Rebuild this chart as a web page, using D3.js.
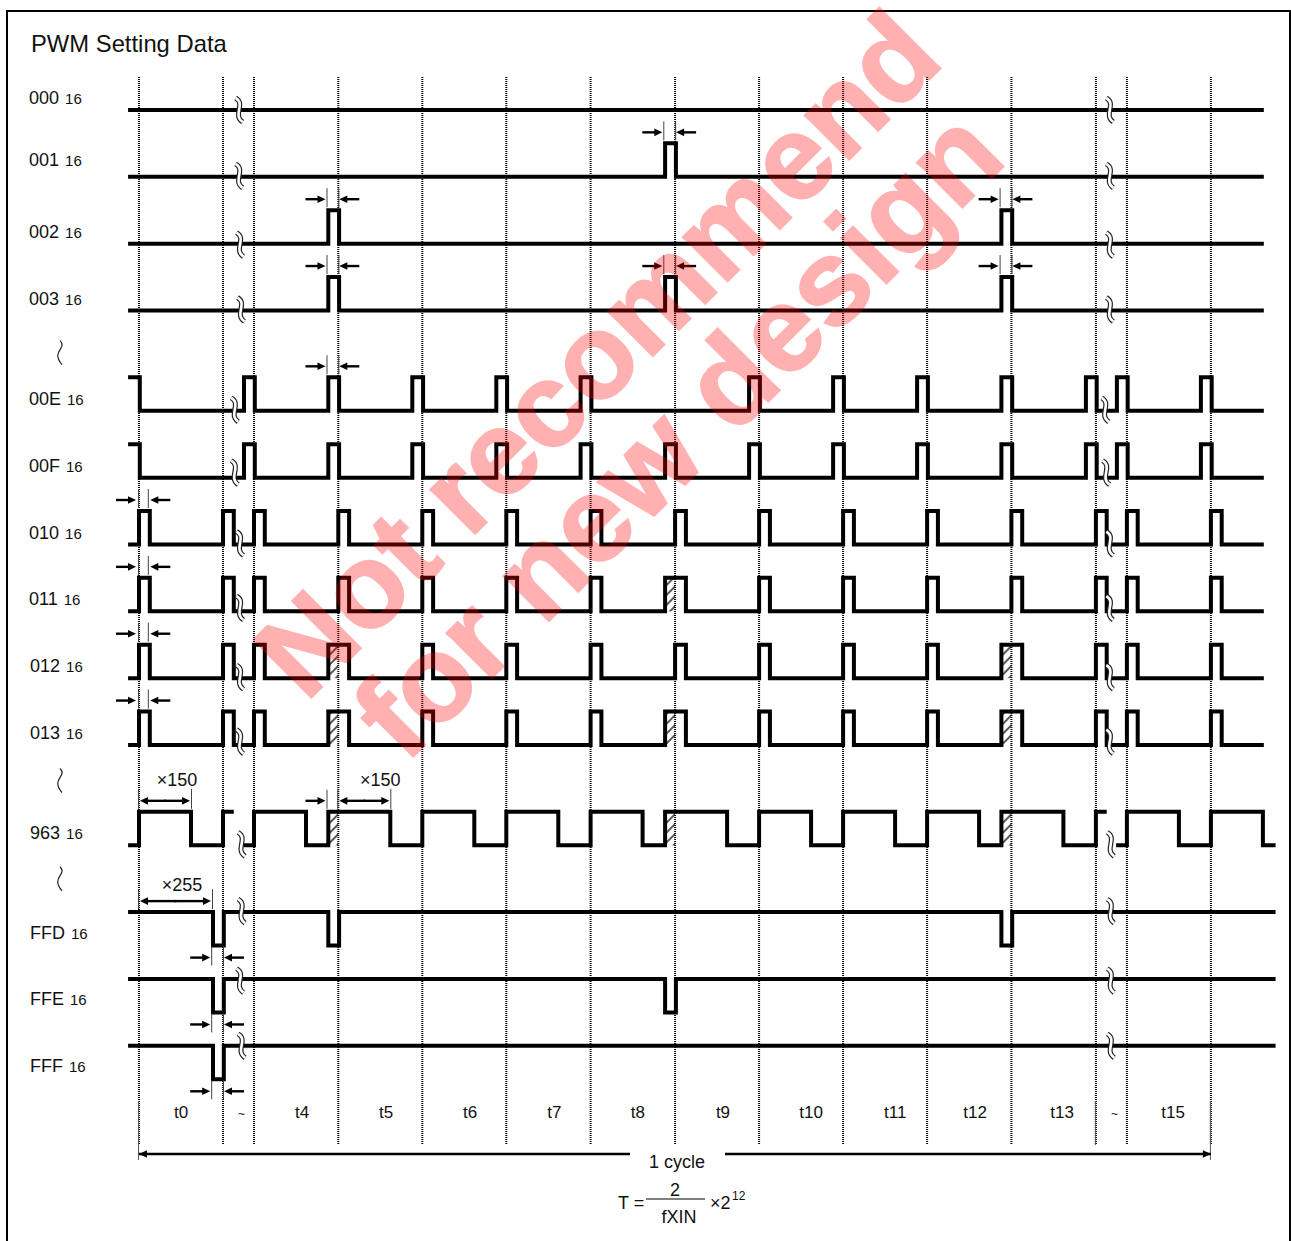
<!DOCTYPE html>
<html>
<head>
<meta charset="utf-8">
<title>PWM Setting Data</title>
<script src="https://cdn.jsdelivr.net/npm/d3@7"></script>
<style>
    html, body { margin: 0; padding: 0; background: #fff; overflow: hidden; }
    svg { display: block; }
    text { font-family: "Liberation Sans", Arial, sans-serif; fill: #111; }
</style>
</head>
<body>
<script>
// setting values, top to bottom
var rowNames = ['000','001','002','003','00E','00F','010','011','012','013','963','FFD','FFE','FFF'];
var rowLanes = [0, 1, 2, 3, 4.5, 5.5, 6.5, 7.5, 8.5, 9.5, 11, 12.5, 13.5, 14.5];

// pulses as [slot edge, counts before it, counts after it]
var all = d3.range(15);
var pulses000 = [];
var pulses001 = [[7, 1, 0]];
var pulses002 = [[3, 1, 0], [11, 1, 0]];
var pulses003 = [[3, 1, 0], [7, 1, 0], [11, 1, 0]];
var pulses00E = [0, 2, 3, 4, 5, 6, 8, 9, 10, 11, 12, 13, 14].map(function(g) { return [g, 1, 0]; });
var pulses00F = [0, 2, 3, 4, 5, 6, 7, 8, 9, 10, 11, 12, 13, 14].map(function(g) { return [g, 1, 0]; });
var pulses010 = all.map(function(g) { return [g, 0, 1]; });
var pulses011 = all.map(function(g) { return [g, g === 7 ? 1 : 0, 1]; });
var pulses012 = all.map(function(g) { return [g, g === 3 || g === 11 ? 1 : 0, 1]; });
var pulses013 = all.map(function(g) { return [g, g === 3 || g === 7 || g === 11 ? 1 : 0, 1]; });
var pulses963 = all.map(function(g) {
    return [g, g === 3 || g === 7 || g === 11 ? 1 : 0, g === 1 || g === 12 ? 1 : 150];
});
var dipsFFD = [[1, 1, 0], [3, 1, 0], [11, 1, 0]];
var dipsFFE = [[1, 1, 0], [7, 1, 0]];
var dipsFFF = [[1, 1, 0]];

var rowPulses = [pulses000, pulses001, pulses002, pulses003, pulses00E, pulses00F, pulses010,
                 pulses011, pulses012, pulses013, pulses963, dipsFFD, dipsFFE, dipsFFF];
var rowRest = [0, 0, 0, 0, 0, 0, 0, 0, 0, 0, 0, 1, 1, 1];
var rowEnd = [14.63, 14.63, 14.63, 14.63, 14.63, 14.63, 14.63, 14.63, 14.63, 14.63, 14.77, 14.77, 14.77, 14.77];

// where the time axis is broken on each row (slot units) and the level it crosses
var breaksLeft = [1.52, 1.52, 1.55, 1.58, 1.38, 1.38, 1.55, 1.55, 1.55, 1.55, 1.6, 1.6, 1.55, 1.6];
var breaksRight = [12.45, 12.45, 12.45, 12.45, 12.3, 12.33, 12.45, 12.45, 12.45, 12.45, 12.48, 12.48, 12.48, 12.48];
var breakLevels = [0, 0.03, -0.03, 0.03, 0.03, 0.15, 0.03, 0.1, 0.03, 0.1, 0.03, 1.03, 0.95, 1];

// width markers: [row, slot edge, side]
var widthMarks = [[1, 7, -1], [2, 3, -1], [2, 11, -1], [3, 3, -1], [3, 7, -1], [3, 11, -1], [4, 3, -1],
                  [6, 0, 1], [7, 0, 1], [8, 0, 1], [9, 0, 1], [11, 1, -1], [12, 1, -1], [13, 1, -1]];
// count dimensions: [row, slot edge, counts, label]
var countMarks = [[10, 0, 150, '×150'], [10, 3, 150, '×150'], [11, 0, 255, '×255']];

var slotLabels = ['t0', '~', 't4', 't5', 't6', 't7', 't8', 't9', 't10', 't11', 't12', 't13', '~', 't15'];
var slotLabelAt = [0.5, 1.6, 2.57, 3.57, 4.57, 5.57, 6.56, 7.57, 8.62, 9.62, 10.57, 11.6, 12.6, 13.55];

var width = 1291, height = 1241;

var svg = d3.select('body').append('svg').attr('width', width).attr('height', height);

// the break slots are drawn narrow, so the axis is piecewise
var slotPx = [84, 31, 84.3, 84, 84, 84.3, 84.5, 84, 84, 84, 84.3, 84.5, 31, 84];
var x = d3.scaleLinear()
    .domain(all)
    .range(slotPx.reduce(function(acc, w) { acc.push(acc[acc.length-1]+w); return acc; }, [139]));
// the diagram is not to scale in counts either
var countPx = d3.scaleLinear().domain([0, 1, 150, 255]).range([0, 10.8, 52, 73]);
var lane = d3.scaleLinear().domain([0, 14.5]).range([110, 1079.3]);
var level = d3.scaleLinear().domain([0, 1]).range([0, -33.5]);
var edgeNudge = 0.8;

function rowY(r, v) { return lane(rowLanes[r])+level(v); }

svg.append('rect')
    .attr('x', 7).attr('y', 11)
    .attr('width', 1283).attr('height', 1260)
    .attr('fill', 'none').attr('stroke', '#000').attr('stroke-width', 2);

svg.append('text').attr('x', 31).attr('y', 52).style('font-size', '23.8px').text('PWM Setting Data');

// hatch
var defs = svg.append('defs');
var hatch = defs.append('pattern')
    .attr('id', 'hatch')
    .attr('patternUnits', 'userSpaceOnUse')
    .attr('width', 7).attr('height', 7)
    .attr('patternTransform', 'rotate(-45)');
hatch.append('line')
    .attr('x1', 0).attr('x2', 7).attr('y1', 3).attr('y2', 3)
    .attr('stroke', '#000').attr('stroke-width', 1.3);

var hatches = svg.append('g');
rowPulses.forEach(function(pulses, r) {
    if (rowRest[r]) return;
    pulses.forEach(function(p) {
        if (!p[1] || !p[2]) return;
        hatches.append('rect')
            .attr('x', x(p[0])-countPx(p[1]))
            .attr('y', rowY(r, 1))
            .attr('width', countPx(p[1]))
            .attr('height', rowY(r, 0)-rowY(r, 1))
            .attr('fill', 'url(#hatch)');
    });
});

// dotted slot edges
svg.append('g').selectAll('line')
    .data(all)
    .enter()
    .append('line')
    .attr('x1', function(d) { return x(d); })
    .attr('x2', function(d) { return x(d); })
    .attr('y1', 77).attr('y2', 1145)
    .attr('stroke', '#000').attr('stroke-width', 2)
    .attr('stroke-dasharray', '1 1');

svg.append('g').selectAll('line')
    .data([[0, 1160], [12, 1145], [14, 1160]])
    .enter()
    .append('line')
    .attr('x1', function(d) { return x(d[0])-0.5; })
    .attr('x2', function(d) { return x(d[0])-0.5; })
    .attr('y1', 1101).attr('y2', function(d) { return d[1]; })
    .attr('stroke', '#555').attr('stroke-width', 1);

// waveforms
function wavePoints(r) {
    var rest = rowRest[r],
        hot = 1-rest,
        pts = [];
    var first = -0.13;
    var pulses = rowPulses[r];
    pts.push([x(first), rest]);
    pulses.forEach(function(p) {
        var a = p[1] ? x(p[0])-countPx(p[1])+edgeNudge : x(p[0]),
            b = p[2] ? x(p[0])+countPx(p[2]) : x(p[0])+edgeNudge;
        if (a <= x(first)+1) {
            pts[0] = [x(first), hot];
        } else {
            pts.push([a, rest]);
            pts.push([a, hot]);
        }
        pts.push([b, hot]);
        if (r === 10 && (p[0] === 1 || p[0] === 12)) {
            // line stops at the axis break
            pts.push(null);
            pts.push([x(p[0]+1)-countPx(1), rest]);
            return;
        }
        pts.push([b, rest]);
    });
    pts.push([x(rowEnd[r]), rest]);
    return pts;
}

var wave = d3.line()
    .defined(function(d) { return d !== null; })
    .x(function(d) { return d[0]; });

svg.append('g').selectAll('path')
    .data(rowNames)
    .enter()
    .append('path')
    .attr('d', function(d, r) {
        return wave.y(function(p) { return rowY(r, p[1]); })(wavePoints(r));
    })
    .attr('fill', 'none')
    .attr('stroke', '#000')
    .attr('stroke-width', 4)
    .attr('stroke-linejoin', 'miter');

// axis breaks
function breakPath(cx, cy) {
    var p = d3.path();
    p.moveTo(cx-3.5, cy-12);
    p.bezierCurveTo(cx+7, cy-6, cx-7, cy+5, cx+3.5, cy+12);
    return p.toString();
}
var breaks = svg.append('g');
rowNames.forEach(function(name, r) {
    [breaksLeft[r], breaksRight[r]].forEach(function(b) {
        var d = breakPath(x(b), rowY(r, breakLevels[r]));
        breaks.append('path').attr('d', d).attr('fill', 'none').attr('stroke', '#222').attr('stroke-width', 5);
        breaks.append('path').attr('d', d).attr('fill', 'none').attr('stroke', '#fff').attr('stroke-width', 2.6);
    });
});

// row labels
var labels = svg.append('g').selectAll('text')
    .data(rowNames)
    .enter()
    .append('text')
    .attr('x', function(d, r) { return r < 8 ? 29 : 30; })
    .attr('y', function(d, r) {
        if (r === 1) return rowY(r, 0)-11;
        return rowY(r, 0)-(r > 10 ? 7 : 6);
    })
    .style('font-size', '18px');
labels.append('tspan').text(function(d) { return d; });
labels.append('tspan').attr('dx', 6).style('font-size', '15px').text('16');

// squiggles between the label groups
var squiggle = svg.append('g');
[3.63, 10.03, 11.5].forEach(function(l) {
    var p = d3.path(),
        cx = 60,
        cy = lane(l);
    p.moveTo(cx, cy-12);
    p.bezierCurveTo(cx+8, cy-4, cx-10, cy-2, cx+2, cy+12);
    squiggle.append('path').attr('d', p.toString()).attr('fill', 'none').attr('stroke', '#222').attr('stroke-width', 1.2);
});

// arrowheads
function arrow(g, xTip, y, dir, len) {
    g.append('line')
        .attr('x1', xTip-dir*len).attr('x2', xTip-dir*5)
        .attr('y1', y).attr('y2', y)
        .attr('stroke', '#000').attr('stroke-width', 2.4);
    g.append('path')
        .attr('d', d3.line()([[xTip, y], [xTip-dir*8, y-3.8], [xTip-dir*8, y+3.8]])+'Z')
        .attr('fill', '#000');
}
function tick(g, xt, y0, y1) {
    g.append('line')
        .attr('x1', xt).attr('x2', xt).attr('y1', y0).attr('y2', y1)
        .attr('stroke', '#444').attr('stroke-width', 1);
}

var marks = svg.append('g');
widthMarks.forEach(function(m) {
    var r = m[0], g = m[1], side = m[2],
        a = side < 0 ? x(g)-countPx(1) : x(g),
        b = side < 0 ? x(g) : x(g)+countPx(1),
        below = rowRest[r] === 1,
        y = below ? rowY(r, 0)+12 : rowY(r, 1)-11;
    tick(marks, a-0.5, y-11, y+8);
    tick(marks, b-(side < 0 ? -0.5 : 1.5), y-11, y+8);
    arrow(marks, a-(side < 0 ? 2 : 3), y, 1, 20);
    arrow(marks, b+(side < 0 ? 1 : 0.5), y, -1, 20);
});

// lone arrow in front of the second x150
(function() {
    var a = x(3)-countPx(1), y = rowY(10, 1)-11;
    tick(marks, a-0.5, y-11, y+8);
    arrow(marks, a-2, y, 1, 20);
})();

var countLabelShift = [38, 42, 43];
countMarks.forEach(function(m, i) {
    var a = x(m[1]),
        b = a+countPx(m[2]),
        y = rowY(m[0], 1)-11;
    tick(marks, a-0.5, y-12, y+8);
    tick(marks, b+0.5, y-12, y+8);
    arrow(marks, a+1, y, -1, (b-a)/2);
    arrow(marks, b-1, y, 1, (b-a)/2);
    marks.append('text')
        .attr('x', a+countLabelShift[i])
        .attr('y', y-(m[2] === 255 ? 10 : 15))
        .style('font-size', '18px')
        .style('text-anchor', 'middle')
        .text(m[3]);
});

// slot names
svg.append('g').selectAll('text')
    .data(slotLabels)
    .enter()
    .append('text')
    .attr('x', function(d, i) { return x(slotLabelAt[i]); })
    .attr('y', 1118)
    .style('font-size', function(d) { return d === '~' ? '12px' : '17px'; })
    .style('text-anchor', 'middle')
    .text(function(d) { return d; });

// one cycle
var cycle = svg.append('g');
cycle.append('line').attr('x1', x(0)).attr('x2', 630).attr('y1', 1154).attr('y2', 1154).attr('stroke', '#000').attr('stroke-width', 2.5);
cycle.append('line').attr('x1', 725).attr('x2', x(14)).attr('y1', 1154).attr('y2', 1154).attr('stroke', '#000').attr('stroke-width', 2.5);
arrow(cycle, x(0), 1154, -1, 8);
arrow(cycle, x(14), 1154, 1, 8);
cycle.append('text').attr('x', 677).attr('y', 1168).style('font-size', '18px').style('text-anchor', 'middle').text('1 cycle');

// period formula
var formula = svg.append('g').style('font-size', '18px');
formula.append('text').attr('x', 618).attr('y', 1209).text('T =');
formula.append('line').attr('x1', 646).attr('x2', 705).attr('y1', 1199).attr('y2', 1199).attr('stroke', '#000').attr('stroke-width', 1);
formula.append('text').attr('x', 675).attr('y', 1196).style('text-anchor', 'middle').text('2');
formula.append('text').attr('x', 679).attr('y', 1223).style('text-anchor', 'middle').text('fXIN');
formula.append('text').attr('x', 710).attr('y', 1209).text('×2');
formula.append('text').attr('x', 732).attr('y', 1200).style('font-size', '12px').text('12');

// watermark
var stamp = svg.append('g')
    .attr('opacity', 0.3)
    .style('font-weight', 'bold')
    .style('text-anchor', 'middle');
stamp.append('text')
    .attr('transform', 'translate(626,383) rotate(-45)')
    .style('font-size', '119px')
    .style('fill', '#f00').style('stroke', '#f00').style('stroke-width', 2)
    .text('Not recommend');
stamp.append('text')
    .attr('transform', 'translate(707,463) rotate(-45)')
    .style('font-size', '121px')
    .style('fill', '#f00').style('stroke', '#f00').style('stroke-width', 2)
    .text('for new design');
</script>
</body>
</html>
